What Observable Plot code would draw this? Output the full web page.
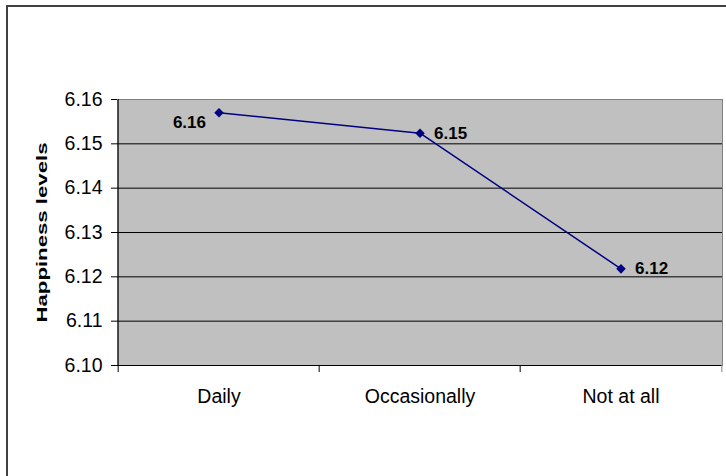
<!DOCTYPE html>
<html>
<head>
<meta charset="utf-8">
<script src="https://cdn.jsdelivr.net/npm/d3@7"></script>
<script src="https://cdn.jsdelivr.net/npm/@observablehq/plot@0.6"></script>
<style>
  html, body { margin: 0; padding: 0; background: #fff; overflow: hidden; }
  #chart { position: relative; width: 726px; height: 476px; overflow: hidden;
           font-family: "Liberation Sans", Arial, sans-serif; }
  #border { position: absolute; left: 6px; top: 5px; width: 780px; height: 540px;
            border: 2px solid #404040; box-sizing: border-box; }
  #chart svg { position: absolute; left: 0; top: 0; }
</style>
</head>
<body>
<div id="chart"><div id="border"></div></div>
<script>
// How often people do the activity, and their mean happiness score
const categories = ["Daily", "Occasionally", "Not at all"];
const happiness = [6.157, 6.1524, 6.1218];
const yTicks = [6.10, 6.11, 6.12, 6.13, 6.14, 6.15, 6.16];
const yTitle = "Happiness levels";

const data = categories.map((c, i) => ({frequency: c, level: happiness[i]}));

const W = 726, H = 476;
const mL = 117, mR = 4, mT = 99, mB = 111;
const bw = (W - mL - mR) / categories.length; // band width, used to put ticks on band edges
const fmt = d3.format(".2f");
const yMin = yTicks[0], yMax = yTicks[yTicks.length - 1];
const font = '"Liberation Sans", Arial, sans-serif';
const titleLength = 180;

const plot = Plot.plot({
  width: W,
  height: H,
  marginLeft: mL,
  marginRight: mR,
  marginTop: mT,
  marginBottom: mB,
  style: {fontFamily: font, fontSize: "19.5px", background: "transparent", color: "#000"},
  x: {type: "band", domain: categories, padding: 0, label: null},
  y: {domain: [yMin, yMax], label: null},
  marks: [
    // grey plot area with grey top/right border
    Plot.frame({fill: "#c0c0c0", stroke: "#808080"}),
    // horizontal gridlines
    Plot.ruleY(yTicks.slice(1, -1), {stroke: "#000", strokeWidth: 1}),
    // x axis line
    Plot.ruleY([yMin], {stroke: "#000", strokeWidth: 1}),
    // y axis line
    Plot.ruleX([categories[0]], {y1: yMin, y2: yMax, dx: -bw / 2, stroke: "#000"}),
    // category boundary ticks below the x axis
    Plot.ruleX(categories, {y1: yMin, y2: yMin, insetBottom: -7, dx: -bw / 2, stroke: "#000"}),
    Plot.ruleX([categories[categories.length - 1]], {y1: yMin, y2: yMin, insetBottom: -7, dx: bw / 2, stroke: "#808080"}),
    Plot.axisY({ticks: yTicks, tickFormat: fmt, tickSize: 6, tickPadding: 9, label: null}),
    Plot.axisX({tickSize: 0, tickPadding: 24, label: null}),
    // series
    Plot.line(data, {x: "frequency", y: "level", stroke: "#000080", strokeWidth: 1.5}),
    Plot.dot(data, {x: "frequency", y: "level", symbol: "diamond2", r: 4.3, fill: "#000080", stroke: "none"}),
    // value labels
    Plot.text(data.slice(0, 1), {x: "frequency", y: "level", text: d => fmt(d.level),
      textAnchor: "end", dx: -13, dy: 10, fontWeight: "bold", fontSize: 17}),
    Plot.text(data.slice(1), {x: "frequency", y: "level", text: d => fmt(d.level),
      textAnchor: "start", dx: 14, fontWeight: "bold", fontSize: 17}),
    // y axis title
    Plot.text([yTitle], {frameAnchor: "left", text: d => d, rotate: -90, dx: -75,
      fontWeight: "bold", fontSize: 15})
  ]
});

// the vertical title is drawn condensed and tall, centred on the plot area
d3.select(plot).selectAll("text")
  .filter(function () { return this.textContent === yTitle; })
  .attr("text-anchor", "start")
  .attr("x", -titleLength / 2)
  .attr("textLength", titleLength)
  .attr("lengthAdjust", "spacingAndGlyphs");

document.getElementById("chart").appendChild(plot);
</script>
</body>
</html>
